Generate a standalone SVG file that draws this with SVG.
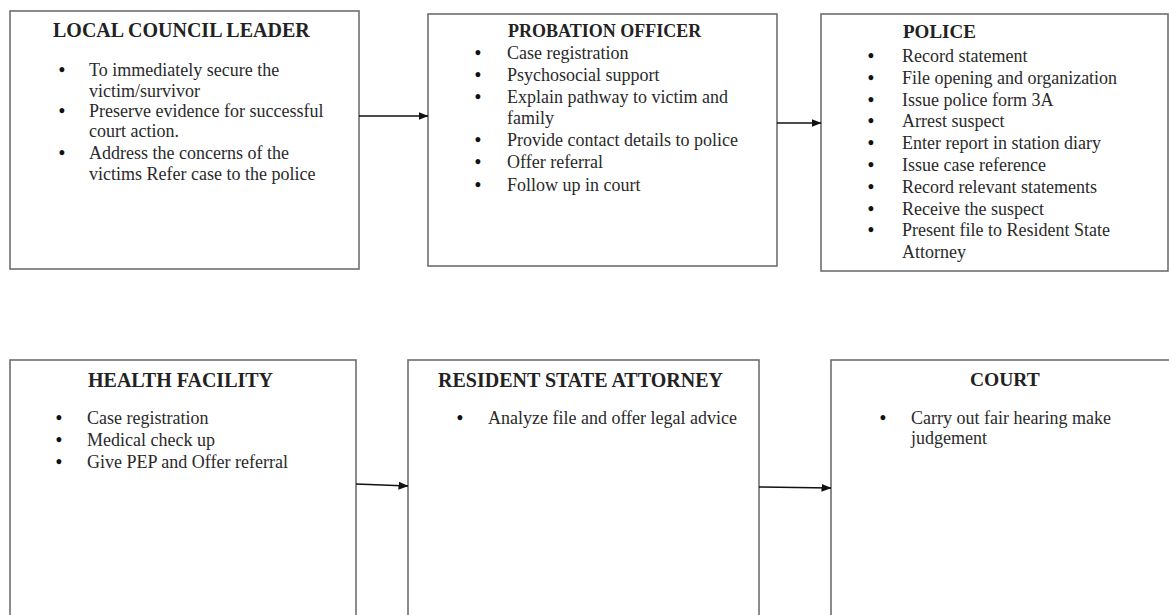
<svg xmlns="http://www.w3.org/2000/svg" width="1169" height="615" viewBox="0 0 1169 615">
<style>
.box{fill:#fff;stroke:#6e6e6e;stroke-width:1.6}
.t{font-family:"Liberation Serif","Times New Roman",serif;font-weight:bold;fill:#222}
.b{font-family:"Liberation Serif","Times New Roman",serif;font-size:18px;fill:#2a2a2a}
.d{font-family:"Liberation Serif","Times New Roman",serif;font-size:18px;font-weight:bold;fill:#111;text-anchor:middle}
.c{stroke:#111;stroke-width:1.6;fill:none;marker-end:url(#ah)}
</style>
<defs>
<marker id="ah" markerWidth="10" markerHeight="8" refX="9.5" refY="4" orient="auto" markerUnits="userSpaceOnUse">
<path d="M0,0 L10,4 L0,8 Z" fill="#111"/>
</marker>
</defs>
<rect width="1169" height="615" fill="#fff"/>
<g id="local-council-leader">
<rect class="box" x="10" y="11" width="349" height="258"/>
<text class="t" x="53" y="37" font-size="20">LOCAL COUNCIL LEADER</text>
<text class="d" x="62" y="76">•</text>
<text class="b" x="89" y="76">To immediately secure the</text>
<text class="b" x="89" y="97">victim/survivor</text>
<text class="d" x="62" y="117">•</text>
<text class="b" x="89" y="117">Preserve evidence for successful</text>
<text class="b" x="89" y="137">court action.</text>
<text class="d" x="62" y="159">•</text>
<text class="b" x="89" y="159">Address the concerns of the</text>
<text class="b" x="89" y="180">victims Refer case to the police</text>
</g>
<g id="probation-officer">
<rect class="box" x="428" y="14" width="349" height="252"/>
<text class="t" x="508" y="37" font-size="18">PROBATION OFFICER</text>
<text class="d" x="478" y="59">•</text>
<text class="b" x="507" y="59">Case registration</text>
<text class="d" x="478" y="81">•</text>
<text class="b" x="507" y="81">Psychosocial support</text>
<text class="d" x="478" y="103">•</text>
<text class="b" x="507" y="103">Explain pathway to victim and</text>
<text class="b" x="507" y="124">family</text>
<text class="d" x="478" y="146">•</text>
<text class="b" x="507" y="146">Provide contact details to police</text>
<text class="d" x="478" y="168">•</text>
<text class="b" x="507" y="168">Offer referral</text>
<text class="d" x="478" y="191">•</text>
<text class="b" x="507" y="191">Follow up in court</text>
</g>
<g id="police">
<rect class="box" x="821" y="14" width="347" height="257"/>
<text class="t" x="903" y="38" font-size="19">POLICE</text>
<text class="d" x="871" y="62">•</text>
<text class="b" x="902" y="62">Record statement</text>
<text class="d" x="871" y="84">•</text>
<text class="b" x="902" y="84">File opening and organization</text>
<text class="d" x="871" y="105.6">•</text>
<text class="b" x="902" y="105.6">Issue police form 3A</text>
<text class="d" x="871" y="127.4">•</text>
<text class="b" x="902" y="127.4">Arrest suspect</text>
<text class="d" x="871" y="149.2">•</text>
<text class="b" x="902" y="149.2">Enter report in station diary</text>
<text class="d" x="871" y="171">•</text>
<text class="b" x="902" y="171">Issue case reference</text>
<text class="d" x="871" y="192.8">•</text>
<text class="b" x="902" y="192.8">Record relevant statements</text>
<text class="d" x="871" y="214.6">•</text>
<text class="b" x="902" y="214.6">Receive the suspect</text>
<text class="d" x="871" y="236.4">•</text>
<text class="b" x="902" y="236.4">Present file to Resident State</text>
<text class="b" x="902" y="258.2">Attorney</text>
</g>
<g id="health-facility">
<rect class="box" x="10" y="360" width="346" height="270"/>
<text class="t" x="88" y="387" font-size="20">HEALTH FACILITY</text>
<text class="d" x="59" y="424">•</text>
<text class="b" x="87" y="424">Case registration</text>
<text class="d" x="59" y="446">•</text>
<text class="b" x="87" y="446">Medical check up</text>
<text class="d" x="59" y="468">•</text>
<text class="b" x="87" y="468">Give PEP and Offer referral</text>
</g>
<g id="resident-state-attorney">
<rect class="box" x="408" y="360" width="351" height="270"/>
<text class="t" x="438" y="387" font-size="20">RESIDENT STATE ATTORNEY</text>
<text class="d" x="460" y="424">•</text>
<text class="b" x="488" y="424">Analyze file and offer legal advice</text>
</g>
<g id="court">
<rect class="box" x="831" y="360" width="350" height="270"/>
<text class="t" x="970" y="386" font-size="19.5">COURT</text>
<text class="d" x="883" y="424">•</text>
<text class="b" x="911" y="424">Carry out fair hearing make</text>
<text class="b" x="911" y="444">judgement</text>
</g>
<g id="connectors">
<line class="c" x1="359" y1="116" x2="428" y2="116"/>
<line class="c" x1="777" y1="123" x2="821" y2="123"/>
<line class="c" x1="356" y1="484" x2="408" y2="486"/>
<line class="c" x1="759" y1="487" x2="831" y2="488"/>
</g>
</svg>
